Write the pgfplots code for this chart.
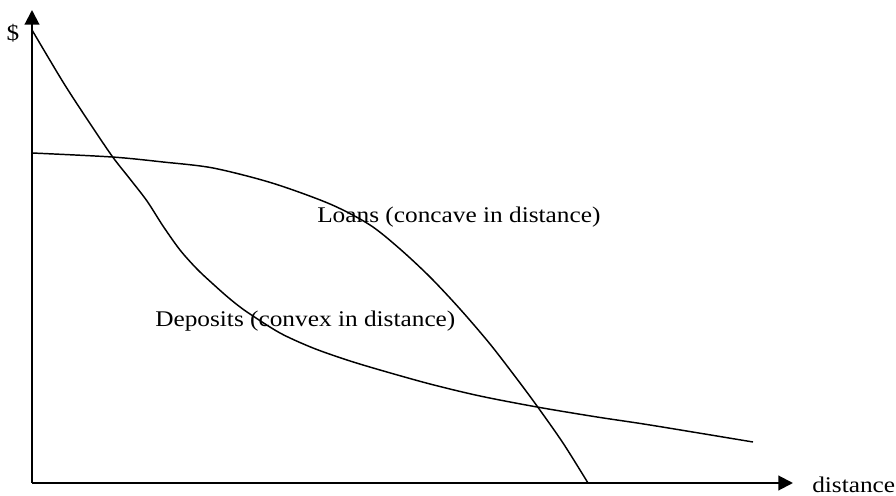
\documentclass[border=0pt]{standalone}
\usepackage{pgfplots}
\pgfplotsset{compat=1.18}
\usepackage{fontspec}
\setmainfont[FakeStretch=1.13]{Liberation Serif}
\usetikzlibrary{arrows.meta}

% curves, in pixels from the origin (x right, y up)
\pgfplotstableread{
x y
0 453
31 401
55 364
80 327
98 304
115 282
131 257
148 233
165 214
181 199
198 184
215 171
248 150
281 135
315 123
348 113
398 99
448 87
505 76
565 66
618 58
721 41
}\deposits
\pgfplotstableread{
x y
0 330
80 326
131 321
181 315
240 300
298 279
338 258
368 234
398 206
428 174
458 139
485 104
505 77
531 40
556 0
}\loans

\begin{document}
\begin{tikzpicture}
\begin{axis}[
    scale only axis,
    width=570.75pt, height=354.75pt,
    xmin=0, xmax=761, ymin=0, ymax=473,
    axis lines=left,
    axis line style={line width=1.5pt, -{Triangle[length=11pt,width=11pt]}},
    xtick=\empty, ytick=\empty,
    clip=false,
    font=\fontsize{16.8}{18}\selectfont,
]
\addplot[black, line width=1.1pt, smooth, tension=0.5, no marks] table {\deposits};
\addplot[black, line width=1.1pt, smooth, tension=0.5, no marks] table {\loans};
\node[anchor=base west, inner sep=0pt] at (axis cs:285,260) {Loans (concave in distance)};
\node[anchor=base west, inner sep=0pt] at (axis cs:123,156) {Deposits (convex in distance)};
\node[anchor=center, inner sep=0pt] at (axis cs:-19,450) {\$};
\node[anchor=base west, inner sep=0pt] at (axis cs:780,-10) {distance};
\coordinate (bl) at (axis cs:-32,-13);
\coordinate (tr) at (axis cs:864,483);
\end{axis}
\pgfresetboundingbox
\useasboundingbox (bl) rectangle (tr);
\end{tikzpicture}
\end{document}
